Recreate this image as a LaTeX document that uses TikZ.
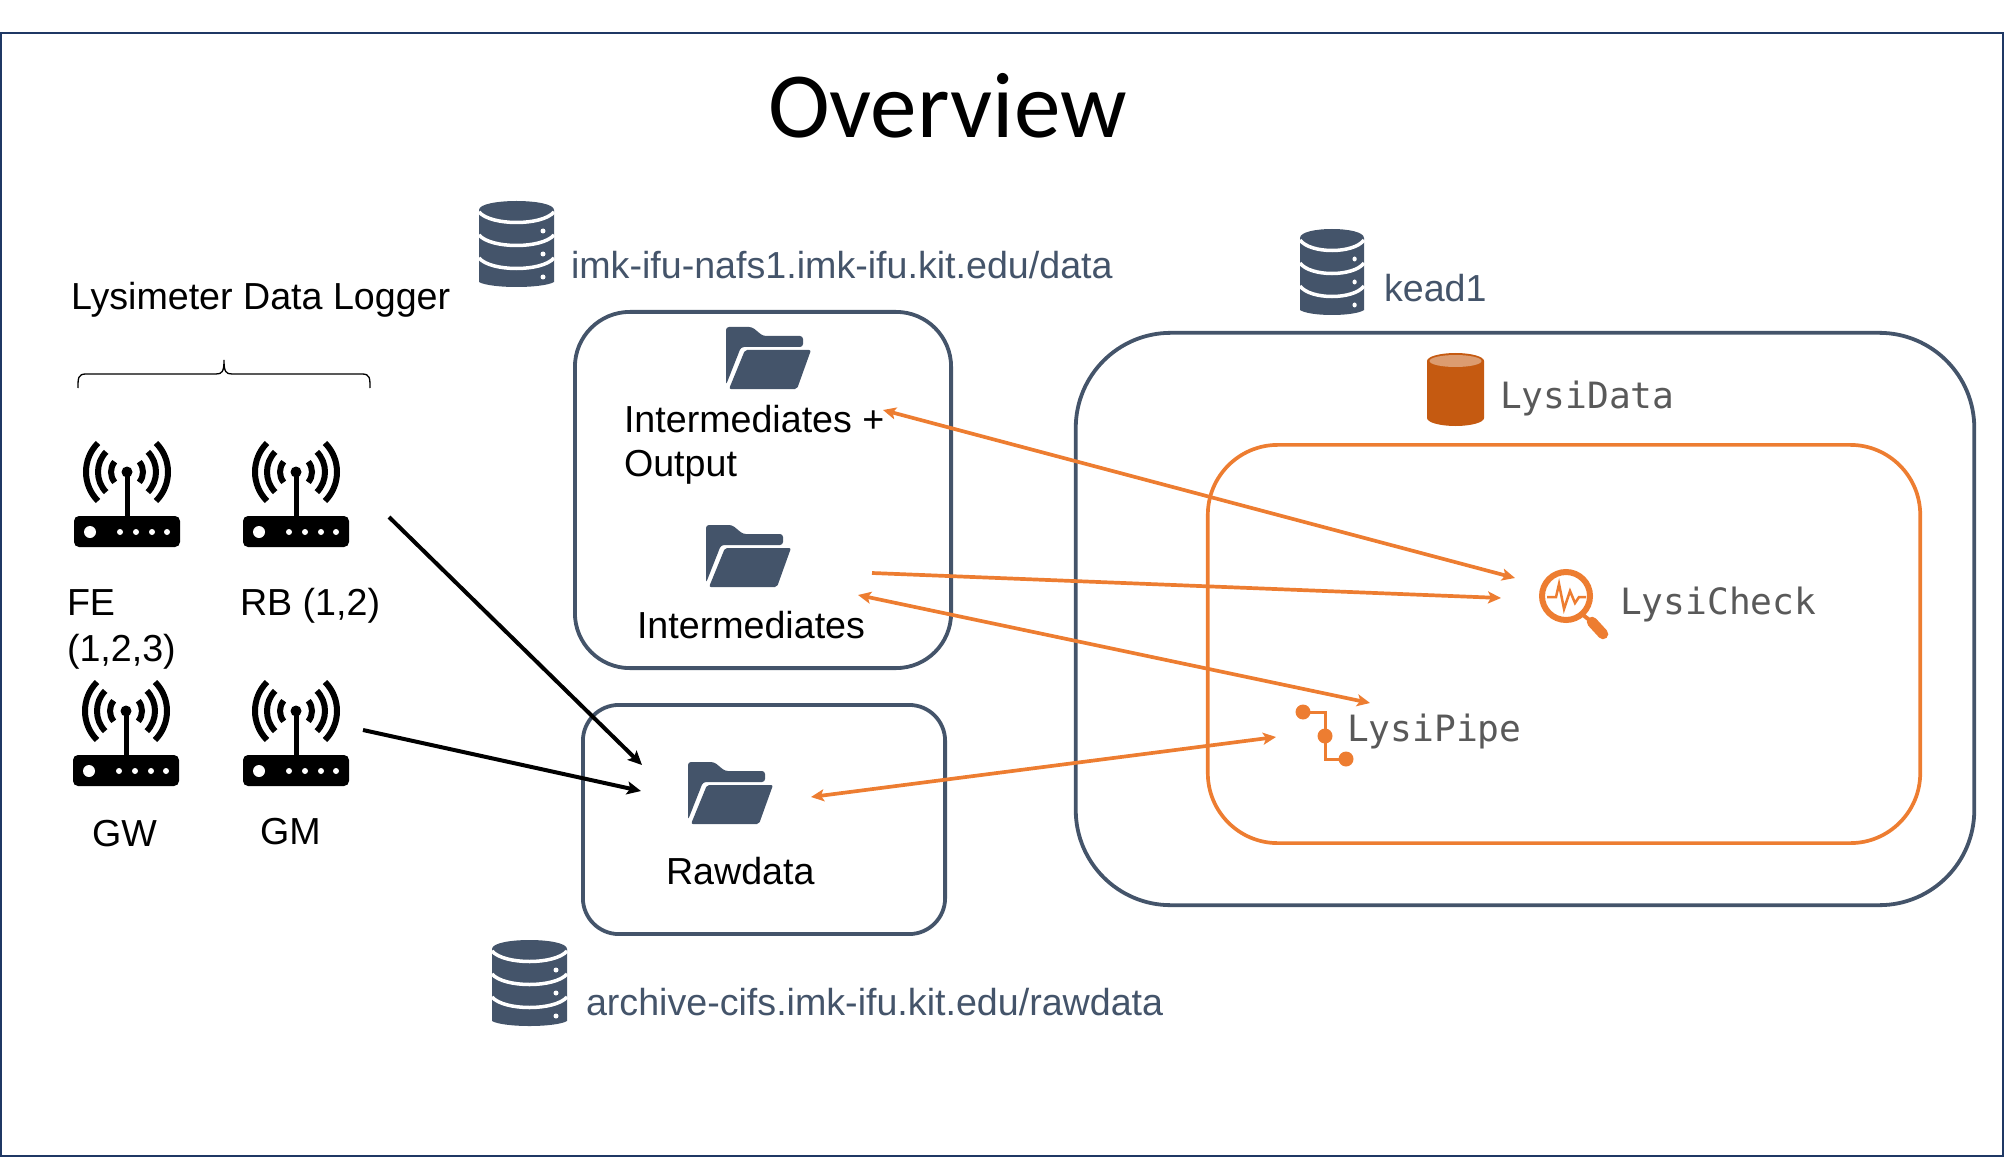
\documentclass[tikz,border=0pt]{standalone}
\usepackage{fontspec}
\usepackage{tikz}
\usetikzlibrary{arrows.meta}
\setmainfont{Liberation Sans}
\newfontfamily\titlefont{Carlito}
\newfontfamily\monofont{DejaVu Sans Mono}
\definecolor{navy}{HTML}{44546A}
\definecolor{framenavy}{HTML}{1F3864}
\definecolor{orangeline}{HTML}{ED7D31}
\definecolor{orangedb}{HTML}{C55A11}
\definecolor{orangetop}{HTML}{DC9C70}
\definecolor{monogray}{HTML}{595959}
\tikzset{
txt/.style={inner sep=0pt, outer sep=0pt, anchor=base west, font=\fontsize{10.7}{12}\selectfont},
bluetxt/.style={txt, text=navy},
monotxt/.style={txt, text=monogray, font=\monofont\fontsize{10.3}{12}\selectfont},
box/.style={rectangle, draw=navy, line width=.038cm, outer sep=0pt, inner sep=0pt},
orangebox/.style={box, draw=orangeline, line width=.037cm},
blackarrow/.style={-{Stealth[length=.14cm,width=.13cm,inset=.03cm]}, line width=.04cm, black},
orangearrow/.style={-{Stealth[length=.13cm,width=.12cm,inset=.03cm]}, line width=.037cm, orangeline},
twoarrow/.style={orangearrow, {Stealth[length=.13cm,width=.12cm,inset=.03cm]}-{Stealth[length=.13cm,width=.12cm,inset=.03cm]}},
routericon/.pic={
  \fill[black, rounded corners=.05cm] (-53,44) rectangle (53,75);
  \fill[black] (-2.5,0) rectangle (2.5,44);
  \fill[black] (0,0) circle[radius=5.5];
  \fill[white] (-37,60) circle[radius=6];
  \foreach \px in {-7,9,25,40} \fill[white] (\px,60) circle[radius=3];
  \foreach \rad/\ang in {16/40,29/44,41/45} {
    \draw[black, line width=.06cm] (180-\ang:\rad) arc[start angle=180-\ang, end angle=180+\ang, radius=\rad];
    \draw[black, line width=.06cm] (-\ang:\rad) arc[start angle=-\ang, end angle=\ang, radius=\rad];
  }
},
dbicon/.pic={
  \fill[navy] (0,9) .. controls (0,-3) and (75,-3) .. (75,9) -- (75,81) .. controls (70,84) and (55,86) .. (37.5,86) .. controls (20,86) and (5,84) .. (0,81) -- cycle;
  \foreach \ly in {11,34,57} \draw[white, line width=.035cm] (0,\ly) .. controls (12,\ly+14) and (63,\ly+14) .. (75,\ly);
  \foreach \ly in {30,53,76} \fill[white] (64,\ly) circle[radius=2.5];
},
foldericon/.pic={
  \fill[navy, rounded corners=.03cm] (0,58) -- (0,0) -- (26,0) -- (37,9) -- (77,9) -- (77,20) -- (15,20) -- cycle;
  \fill[navy, rounded corners=.02cm] (19,23) -- (85,23) -- (71,62) -- (3,62) -- cycle;
},
}

\begin{document}
\begin{tikzpicture}[x=.01cm, y=-.01cm]
\useasboundingbox (0,0) rectangle (2004,1158);
\node [rectangle, draw=framenavy, line width=.02cm, outer sep=0pt, inner sep=0pt, minimum width=20cm, minimum height=11.22cm] (frame) at (1002,594.5) {};

\node [txt, font=\titlefont\fontsize{26.5}{30}\selectfont] (title) at (768,138) {Overview};

% logger
\node [txt] (logger) at (71,310) {Lysimeter Data Logger};
\draw[black, line width=.013cm] (78,388) .. controls (78,378) and (78,374) .. (86,374) -- (216,374) .. controls (222,374) and (224,372) .. (224,360) .. controls (224,372) and (226,374) .. (232,374) -- (362,374) .. controls (370,374) and (370,378) .. (370,388);
\pic (fe) at (127,472) {routericon};
\pic (rb) at (296,472) {routericon};
\pic (gw) at (126,711) {routericon};
\pic (gm) at (296,711) {routericon};
\node [txt] (felabel) at (67,615) {FE};
\node [txt] (felabelb) at (67,661) {(1,2,3)};
\node [txt] (rblabel) at (240,615) {RB (1,2)};
\node [txt] (gwlabel) at (92,846) {GW};
\node [txt] (gmlabel) at (260,844) {GM};

% storage
\pic (nafsdb) at (479,201) {dbicon};
\node [bluetxt] (nafs) at (571,279) {imk-ifu-nafs1.imk-ifu.kit.edu/data};
\pic (archivedb) at (492,940) {dbicon};
\node [bluetxt] (archive) at (586,1015) {archive-cifs.imk-ifu.kit.edu/rawdata};
\pic[xscale=.853] (keaddb) at (1300,229) {dbicon};
\node [bluetxt] (kead) at (1384,301) {kead1};

\node [box, rounded corners=.55cm, minimum width=3.76cm, minimum height=3.56cm] (interbox) at (763,490) {};
\node [box, rounded corners=.36cm, minimum width=3.62cm, minimum height=2.29cm] (rawbox) at (764,819.5) {};
\node [box, rounded corners=.95cm, minimum width=8.98cm, minimum height=5.72cm] (keadbox) at (1525,619) {};
\node [orangebox, rounded corners=.7cm, minimum width=7.12cm, minimum height=3.98cm] (lysibox) at (1564,644) {};

\pic (outfolder) at (726,327) {foldericon};
\node [txt] (outlabel) at (624,432) {Intermediates +};
\node [txt] (outlabelb) at (624,476) {Output};
\pic (interfolder) at (706,525) {foldericon};
\node [txt] (interlabel) at (637,638) {Intermediates};
\pic (rawfolder) at (688,762) {foldericon};
\node [txt] (rawlabel) at (666,884) {Rawdata};

% lysi tools
\fill[orangedb] (1427,361) arc[start angle=180, end angle=360, x radius=28.5, y radius=8] -- (1484,418) arc[start angle=0, end angle=180, x radius=28.5, y radius=8] -- cycle;
\fill[orangetop] (1455.5,361) ellipse[x radius=26, y radius=6];
\node [monotxt] (lysidata) at (1500,408) {LysiData};

\draw[orangeline, line width=.06cm] (1566,596) circle[radius=24];
\draw[orangeline, line width=.025cm] (1547,597) -- (1556,597) -- (1559,584) -- (1564,609) -- (1570,591) -- (1575,603) -- (1579,597) -- (1586,597);
\draw[orangeline, line width=.04cm] (1583,615) -- (1592,622);
\draw[orangeline, line width=.105cm, line cap=round] (1592,622) -- (1603,634);
\node [monotxt] (lysicheck) at (1620,614) {LysiCheck};

\draw[orangeline, line width=.03cm] (1303,712) -- (1325,712) -- (1325,759) -- (1346,759);
\foreach \py/\qy in {1303/712,1325/736,1346/759} \fill[orangeline] (\py,\qy) circle[radius=7.5];
\node [monotxt] (lysipipe) at (1347,741) {LysiPipe};

% connectors
\coordinate (feend) at (389,517);
\coordinate (gmend) at (363,730);
\coordinate (rawinA) at (642,765);
\coordinate (rawinB) at (641,791);
\coordinate (outend) at (883,410);
\coordinate (checkA) at (1515,578);
\coordinate (interA) at (872,573);
\coordinate (checkB) at (1501,598);
\coordinate (interB) at (858,595);
\coordinate (pipeA) at (1370,703);
\coordinate (rawout) at (811,797);
\coordinate (pipeB) at (1276,737);

\draw[blackarrow] (feend) -- (rawinA);
\draw[blackarrow] (gmend) -- (rawinB);
\draw[twoarrow] (outend) -- (checkA);
\draw[orangearrow] (interA) -- (checkB);
\draw[twoarrow] (interB) -- (pipeA);
\draw[twoarrow] (rawout) -- (pipeB);
\end{tikzpicture}
\end{document}
